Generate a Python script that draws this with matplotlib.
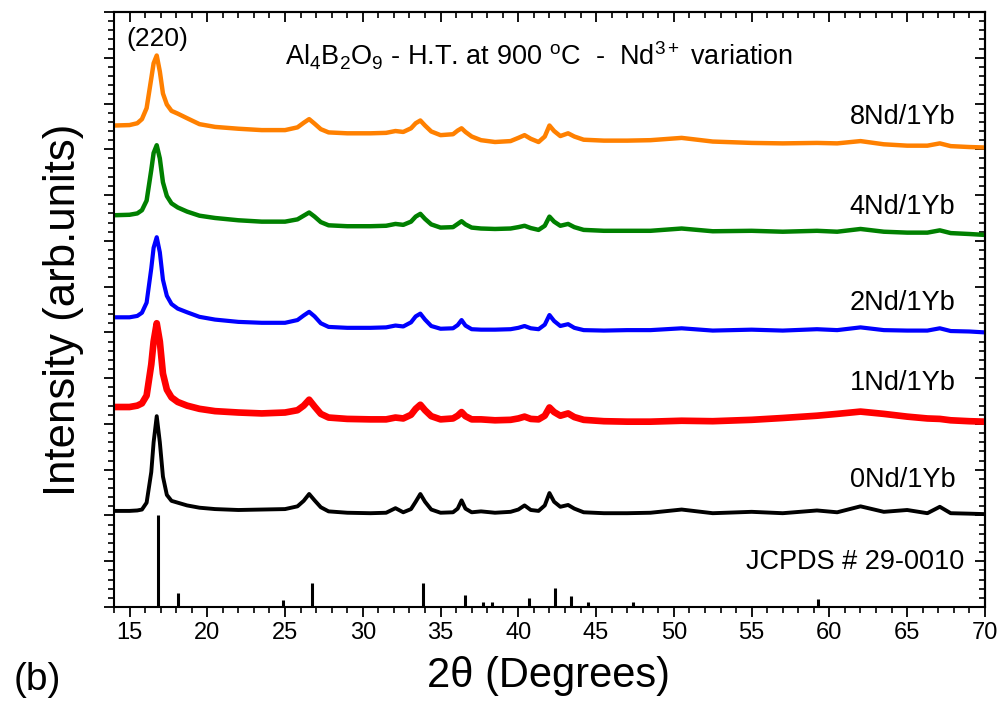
import matplotlib
matplotlib.use("Agg")
import matplotlib.pyplot as plt
from matplotlib.ticker import MultipleLocator

plt.rcParams['font.family'] = ['Liberation Sans', 'DejaVu Sans']
plt.rcParams['mathtext.fontset'] = 'custom'
plt.rcParams['mathtext.rm'] = 'Liberation Sans'
plt.rcParams['mathtext.it'] = 'Liberation Sans:italic'

two_theta = [14, 15, 15.5, 15.8, 16.1, 16.4, 16.55, 16.75, 16.95, 17.15,
             17.4, 17.7, 18.1, 18.7, 19.5, 20.5, 22, 23.5, 25, 25.8,
             26.2, 26.55, 26.9, 27.3, 27.8, 29, 30.5, 31.5, 32.1, 32.6,
             33.1, 33.4, 33.7, 34.0, 34.4, 35, 35.8, 36.1, 36.35, 36.6,
             37.0, 37.6, 38.5, 39.5, 40.0, 40.4, 40.8, 41.3, 41.7, 42.0,
             42.3, 42.7, 43.2, 43.6, 44.2, 45.5, 47, 48.5, 50.5, 52.5,
             55, 57, 59.2, 60.5, 62.0, 63.5, 65, 66.3, 67.1, 67.8,
             69, 70]

# intensities (arb. units) before stacking
i_0nd = [.10, .10, .11, .13, .28, .95, 1.60, 2.17, 1.60, .85,
         .45, .32, .28, .22, .17, .14, .12, .13, .14, .20,
         .32, .47, .33, .18, .09, .06, .05, .06, .16, .07,
         .14, .30, .47, .30, .13, .06, .07, .15, .33, .15,
         .07, .09, .06, .08, .13, .22, .12, .10, .22, .49,
         .30, .19, .23, .15, .07, .05, .05, .06, .13, .05,
         .08, .05, .11, .07, .20, .08, .12, .05, .19, .05,
         .04, .03]
i_1nd = [.37, .37, .40, .45, .62, 1.30, 1.80, 2.20, 1.80, 1.10,
         .75, .58, .48, .40, .33, .28, .25, .23, .25, .30,
         .40, .53, .38, .22, .14, .11, .10, .10, .14, .12,
         .20, .33, .42, .30, .17, .10, .12, .18, .26, .17,
         .10, .10, .08, .09, .12, .16, .11, .10, .18, .36,
         .26, .18, .23, .15, .09, .06, .05, .05, .07, .06,
         .09, .13, .18, .22, .27, .22, .16, .12, .11, .08,
         .06, .05]
i_2nd = [.33, .33, .36, .43, .65, 1.40, 1.85, 2.08, 1.75, 1.15,
         .80, .62, .52, .44, .34, .28, .23, .21, .21, .27,
         .37, .45, .35, .20, .12, .10, .10, .11, .15, .13,
         .22, .35, .41, .28, .14, .08, .09, .16, .27, .15,
         .07, .06, .06, .07, .10, .14, .09, .07, .17, .38,
         .25, .14, .18, .10, .05, .04, .05, .05, .09, .04,
         .06, .04, .07, .05, .11, .05, .04, .04, .09, .03,
         .02, .00]
i_4nd = [.56, .57, .60, .67, .88, 1.55, 1.92, 2.09, 1.80, 1.28,
         .98, .82, .73, .64, .55, .50, .45, .42, .42, .47,
         .55, .62, .53, .41, .34, .32, .32, .33, .37, .35,
         .42, .53, .59, .48, .36, .29, .30, .37, .43, .36,
         .29, .27, .26, .27, .30, .33, .28, .24, .33, .53,
         .42, .33, .37, .30, .24, .22, .22, .22, .27, .21,
         .22, .20, .22, .20, .26, .20, .18, .18, .23, .17,
         .15, .13]
i_8nd = [.52, .53, .57, .66, .90, 1.55, 1.88, 2.05, 1.70, 1.22,
         .98, .84, .78, .68, .55, .49, .45, .42, .42, .48,
         .58, .66, .56, .44, .37, .35, .35, .36, .40, .38,
         .46, .57, .63, .52, .39, .31, .33, .41, .46, .38,
         .28, .20, .16, .18, .25, .31, .23, .16, .28, .52,
         .40, .29, .35, .28, .21, .19, .19, .20, .25, .17,
         .14, .13, .14, .13, .18, .11, .08, .08, .13, .07,
         .05, .04]

# JCPDS 29-0010 reference lines
ref_pos = [16.8, 18.1, 24.9, 26.74, 33.85, 36.6, 37.7, 38.3, 40.7, 42.36, 43.39, 44.48, 47.4, 59.27]
ref_int = [2.0, 0.31, 0.15, 0.52, 0.52, 0.26, 0.11, 0.11, 0.2, 0.41, 0.24, 0.11, 0.11, 0.17]

labels = ['0Nd/1Yb', '1Nd/1Yb', '2Nd/1Yb', '4Nd/1Yb', '8Nd/1Yb']
series = [i_0nd, i_1nd, i_2nd, i_4nd, i_8nd]
colors = ['black', '#ff0000', '#0000ff', '#008000', '#ff8000']
widths = [2.8, 4.8, 3.0, 3.2, 3.2]
offsets = [2, 4, 6, 8, 10]
label_y = [2.77, 4.89, 6.64, 8.73, 10.7]

fig = plt.figure(figsize=(10.04, 7.07), dpi=100)
ax = fig.add_axes([0.1135, 0.1414, 0.8675, 0.8416])

for vals, c, lw, off in zip(series, colors, widths, offsets):
    ax.plot(two_theta, [v + off for v in vals], color=c, lw=lw, solid_joinstyle='round')
ax.vlines(ref_pos, 0, ref_int, color='black', lw=2.2)

for lab, ly in zip(labels, label_y):
    ax.text(68.1, ly, lab, ha='right', va='center', fontsize=19.5)
ax.text(68.7, 0.98, 'JCPDS # 29-0010', ha='right', va='center', fontsize=19.5)
ax.text(16.8, 12.4, '(220)', ha='center', va='center', fontsize=19)
ax.text(41.3, 12.05, r'Al$_4$B$_2$O$_9$ - H.T. at 900 $^{\mathrm{o}}$C  -  Nd$^{3+}$ variation',
        ha='center', va='center', fontsize=19.5)

ax.set_xlim(14, 70)
ax.set_ylim(0, 13)
ax.set_xticks(range(15, 71, 5))
ax.xaxis.set_minor_locator(MultipleLocator(1))
ax.yaxis.set_major_locator(MultipleLocator(1))
ax.yaxis.set_minor_locator(MultipleLocator(0.2))
ax.tick_params(axis='both', which='major', length=7, width=1.3, labelsize=17, pad=4)
ax.tick_params(axis='both', which='minor', length=4, width=1.2)
ax.tick_params(axis='x', which='both', direction='out', top=False)
ax.tick_params(axis='y', which='both', direction='out', right=False, labelleft=False)

# inward ticks on top and right edges
axt = ax.secondary_xaxis('top')
axt.xaxis.set_major_locator(MultipleLocator(5))
axt.xaxis.set_minor_locator(MultipleLocator(1))
axt.tick_params(which='major', direction='in', length=7, width=1.3, labeltop=False)
axt.tick_params(which='minor', direction='in', length=4, width=1.2)
axr = ax.secondary_yaxis('right')
axr.yaxis.set_major_locator(MultipleLocator(1))
axr.yaxis.set_minor_locator(MultipleLocator(0.2))
axr.tick_params(which='major', direction='in', length=7, width=1.3, labelright=False)
axr.tick_params(which='minor', direction='in', length=4, width=1.2)
for s in list(ax.spines.values()) + [axt.spines['top'], axr.spines['right']]:
    s.set_linewidth(1.5)

fig.text(549 / 1004, 1 - 676 / 707, '2θ (Degrees)', fontsize=30, ha='center', va='center')
fig.text(64 / 1004, 1 - 310 / 707, 'Intensity (arb.units)', fontsize=31.5, rotation=90,
         ha='center', va='center')
fig.text(37 / 1004, 1 - 680 / 707, '(b)', fontsize=28, ha='center', va='center')

fig.savefig('out.png', dpi=100)
